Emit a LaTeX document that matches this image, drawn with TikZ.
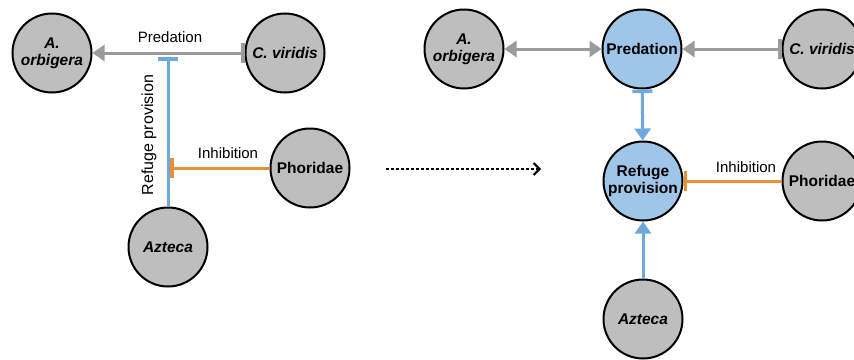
\documentclass[tikz,border=0pt]{standalone}
\usepackage{fontspec}
\setmainfont{Liberation Sans}
\usetikzlibrary{arrows.meta}
\definecolor{nodegray}{RGB}{190,190,190}
\definecolor{nodeblue}{RGB}{159,197,232}
\definecolor{lineblue}{RGB}{111,168,220}
\definecolor{lineorange}{RGB}{230,145,56}
\definecolor{linegray}{RGB}{155,155,155}
\tikzset{
  mytri/.tip={Triangle[length=12pt,width=16pt]},
  mybar/.tip={Bar[width=20pt,line width=3.5pt]}
}
\begin{document}
\begin{tikzpicture}[x=1pt,y=-1pt,
  lbl/.style={font=\fontsize{15}{17}\selectfont, inner sep=0pt},
  nd/.style={circle, draw=black, line width=2pt, minimum size=79pt, inner sep=0pt, align=center},
  species/.style={nd, fill=nodegray, font=\fontsize{15.5}{17}\selectfont\bfseries\itshape},
  family/.style={nd, fill=nodegray, font=\fontsize{15.5}{17}\selectfont\bfseries},
  process/.style={nd, fill=nodeblue, font=\fontsize{15.5}{17}\selectfont\bfseries},
  grayline/.style={draw=linegray, line width=3pt},
  blueline/.style={draw=lineblue, line width=3pt},
  orangeline/.style={draw=lineorange, line width=3pt}
]
\useasboundingbox (0,0) rectangle (854,359);
% left panel
\node[species] (ao1) at (52,53) {A.\\orbigera};
\node[species] (cv1) at (285,53) {C. viridis};
\node[family] (ph1) at (310,168) {Phoridae};
\node[species] (az1) at (168,247) {Azteca};
\coordinate (pj) at (168,57);
\coordinate (ij) at (170,168);
\draw[grayline, {mybar}-{mytri}] (cv1) -- (ao1);
\draw[blueline, -{mybar}] (az1) -- (pj);
\draw[orangeline, -{mybar}] (ph1) -- (ij);
\node[lbl] (predlbl) at (170,37) {Predation};
\node[lbl, font=\fontsize{16}{18}\selectfont, rotate=90] (reflbl) at (149,135) {Refuge provision};
\node[lbl] (inhlbl1) at (228,153) {Inhibition};
% transition arrow
\coordinate (da) at (386,169);
\coordinate (db) at (541,169);
\draw[line width=2.5pt, dash pattern=on 2.5pt off 2.5pt, -{Straight Barb[length=6pt,width=12pt,line width=2pt]}] (da) -- (db);
% right panel
\node[species] (ao2) at (464,49) {A.\\orbigera};
\node[process] (pr2) at (642,49) {Predation};
\node[species] (cv2) at (822,49) {C. viridis};
\node[process] (rp2) at (643,181) {Refuge\\provision};
\node[family] (ph2) at (822,181) {Phoridae};
\node[species] (az2) at (643,319) {Azteca};
\draw[grayline, {mytri}-{mytri}] (ao2) -- (pr2);
\draw[grayline, {mybar}-{mytri}] (cv2) -- (pr2);
\draw[blueline, {mybar}-{mytri}] (pr2) -- (rp2);
\draw[blueline, -{mytri}] (az2) -- (rp2);
\draw[orangeline, -{mybar}] (ph2) -- (rp2);
\node[lbl] (inhlbl2) at (746,167) {Inhibition};
\end{tikzpicture}
\end{document}
